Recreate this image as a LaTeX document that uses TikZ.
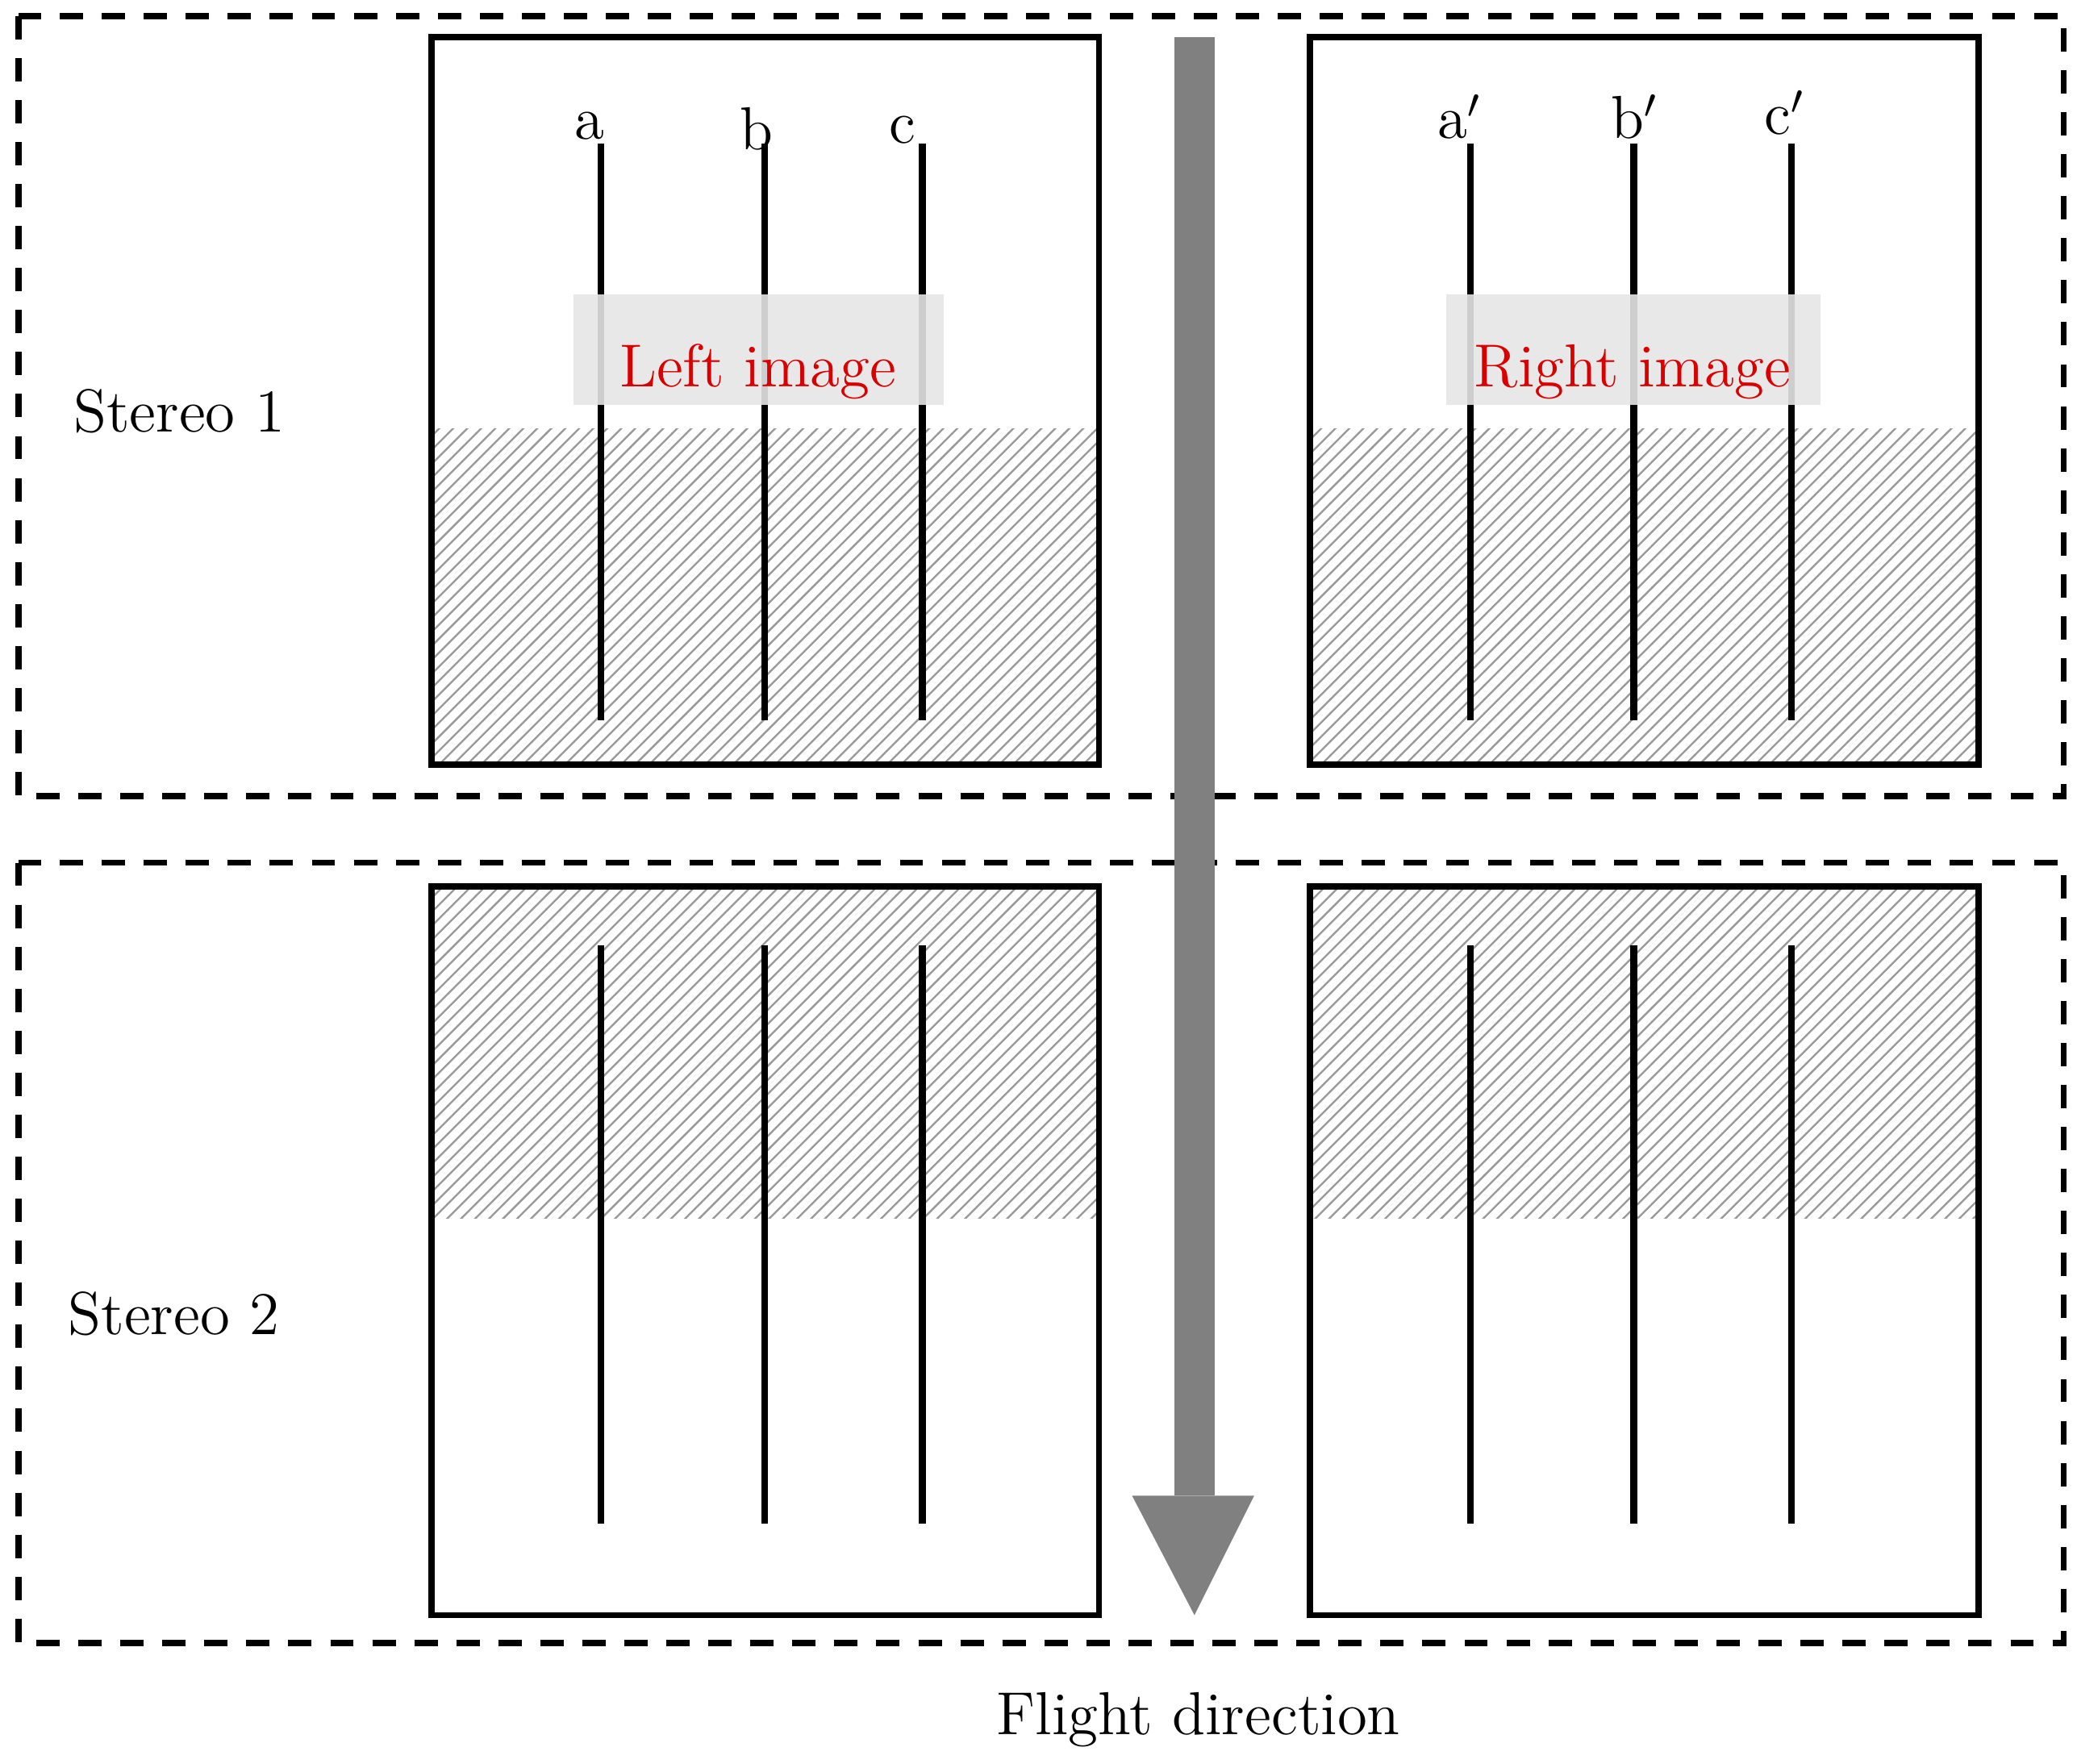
\documentclass[tikz,border=0pt]{standalone}
\usetikzlibrary{patterns}
\tikzset{
  frame/.style = {line width=1.3pt},
  group/.style = {dashed, line width=1.3pt, dash pattern=on 5pt off 4pt},
  hatch/.style = {pattern = north east lines, pattern color=gray!80},
  track/.style = {line width=1.4pt},
  lbl/.style = {font=\fontsize{13}{15}\selectfont}
}
\begin{document}
\begin{tikzpicture}[x=0.01cm, y=-0.01cm]
  \useasboundingbox (0,0) rectangle (1565,1329);

  %% Stereo groups
  \draw[group] (14,12) rectangle (1555,600);
  \draw[group] (14,650) rectangle (1555,1238);
  \node[lbl] (s1) at (135,310) {Stereo 1};
  \node[lbl] (s2) at (131,990) {Stereo 2};

  % Hatched overlap
  \fill[hatch] (327,323) rectangle (826,574);
  \fill[hatch] (989,323) rectangle (1489,574);
  \fill[hatch] (327,670) rectangle (826,918);
  \fill[hatch] (989,670) rectangle (1489,918);

  % Image frames
  \draw[frame] (325,28) rectangle (828,576);
  \draw[frame] (987,28) rectangle (1491,576);
  \draw[frame] (325,668) rectangle (828,1217);
  \draw[frame] (987,668) rectangle (1491,1217);

  % Tracks
  \foreach \x in {453,576,695,1108,1231,1350} {
    \draw[track] (\x,108) -- (\x,543);
    \draw[track] (\x,712) -- (\x,1148);
  }
  \node[lbl] (a) at (444,95) {a};
  \node[lbl] (b) at (570,97) {b};
  \node[lbl] (c) at (680,98) {c};
  \node[lbl] (a2) at (1100,88) {a$'$};
  \node[lbl] (b2) at (1232,88) {b$'$};
  \node[lbl] (c2) at (1345,85) {c$'$};

  % Image titles
  \fill[gray!20, opacity=0.9] (432,222) rectangle (711,305);
  \fill[gray!20, opacity=0.9] (1090,222) rectangle (1372,305);
  \node[lbl, text=red!85!black] (left) at (571,280) {Left image};
  \node[lbl, text=red!85!black] (right) at (1230,280) {Right image};

  %% Flight direction
  \fill[gray] (885,28) rectangle (915,1127);
  \fill[gray] (853,1127) -- (945,1127) -- (900,1217) -- cycle;
  \node[lbl] (fd) at (903,1296) {Flight direction};
\end{tikzpicture}
\end{document}
